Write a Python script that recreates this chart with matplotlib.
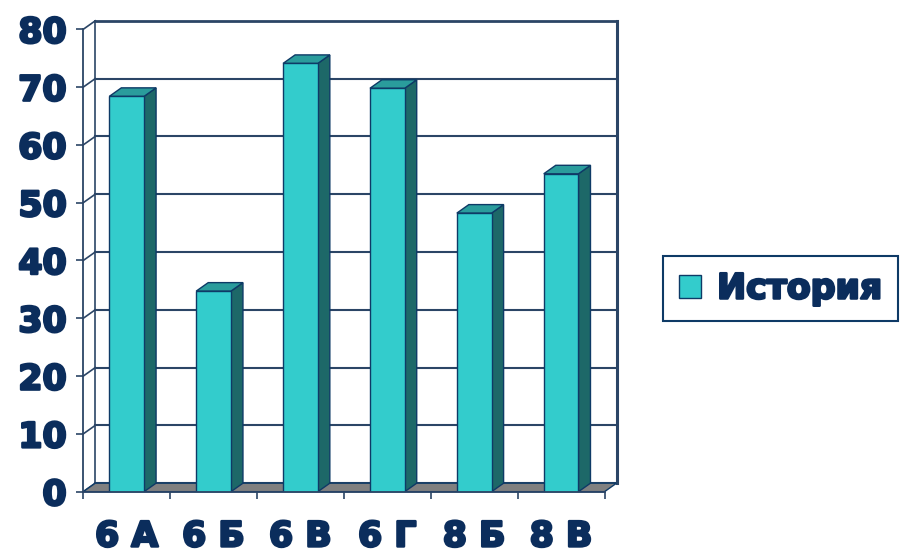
import numpy as np
import matplotlib
matplotlib.use("Agg")
import matplotlib.pyplot as plt
from matplotlib import font_manager as fm
from matplotlib import patheffects as pe
from matplotlib.patches import Polygon
from matplotlib.transforms import IdentityTransform

# ---- data ----
categories = ['6 А', '6 Б', '6 В', '6 Г', '8 Б', '8 В']
values = [68.4, 34.7, 74.1, 69.8, 48.2, 55.0]
series_name = 'История'
y_ticks = [0, 10, 20, 30, 40, 50, 60, 70, 80]

# ---- styles ----
FRONT = '#33CCCC'
SIDE = '#1D6868'
TOP = '#2A9C9C'
FLOOR = '#808080'
EDGE = '#0E3A66'
GRID = '#2B4566'
TEXT = '#0B2D5C'
DX, DY = 12.0, 8.5   # depth offset in pixels
FAM, WEIGHT, FS = 'DejaVu Sans', 'bold', 25
HEAVY = [pe.withStroke(linewidth=1.8, foreground=TEXT)]

plt.rcParams['font.family'] = [FAM]

fig = plt.figure(figsize=(9.05, 5.54), dpi=100)
ax = fig.add_axes([0.0920, 0.1125, 0.576, 0.8346])
ax.set_xlim(-0.5, len(categories) - 0.5)
ax.set_ylim(y_ticks[0], y_ticks[-1])
ax.patch.set_visible(False)
fig.canvas.draw()

x = np.arange(len(categories))
bw = 0.4
off = np.array([DX, DY])


def P(xd, yd, depth=0.0):
    return ax.transData.transform((xd, yd)) + depth * off


def poly(pts, fc, ec=EDGE, lw=1.0, z=1):
    ax.add_patch(Polygon(pts, closed=True, facecolor=fc, edgecolor=ec, lw=lw,
                         transform=IdentityTransform(), clip_on=False, zorder=z,
                         joinstyle='miter'))


def line(pts, color=GRID, lw=1.4, z=0.5):
    pts = np.array(pts)
    ax.add_line(matplotlib.lines.Line2D(pts[:, 0], pts[:, 1], color=color, lw=lw,
                                        transform=IdentityTransform(), clip_on=False,
                                        zorder=z))


x0, x1 = ax.get_xlim()
y0, y1 = ax.get_ylim()

# floor
poly([P(x0, y0), P(x1, y0), P(x1, y0, 1), P(x0, y0, 1)], FLOOR, lw=1.0, z=0.6)

# back wall gridlines and left wall lines
for v in y_ticks:
    line([P(x0, v, 1), P(x1, v, 1)], lw=1.5 if v < y_ticks[-1] else 2.0)
    line([P(x0, v), P(x0, v, 1)], lw=1.2)
line([P(x0, y0, 1), P(x0, y1, 1)], lw=1.2)
line([P(x1, y0, 1), P(x1, y1, 1)], lw=2.2)

# bars: front faces through ax.bar, then 3D side/top
bars = ax.bar(x, values, width=bw, color=FRONT, edgecolor=EDGE, linewidth=1.0,
              zorder=2, label=series_name)
for xi, v in zip(x, values):
    l, r = xi - bw / 2, xi + bw / 2
    poly([P(r, 0), P(r, 0, 1), P(r, v, 1), P(r, v)], SIDE, z=1.9)
    poly([P(l, v), P(r, v), P(r, v, 1), P(l, v, 1)], TOP, z=1.9)

# spines / axes (front)
for s in ['top', 'right']:
    ax.spines[s].set_visible(False)
for s in ['left', 'bottom']:
    ax.spines[s].set_color(GRID)
    ax.spines[s].set_linewidth(1.3)
    ax.spines[s].set_zorder(3)

ax.set_yticks(y_ticks)
ax.set_yticklabels([str(t) for t in y_ticks])
ax.tick_params(axis='y', direction='out', length=5, width=1.2, color=GRID, pad=7,
               labelsize=FS, labelcolor=TEXT)
for t in ax.get_yticklabels():
    t.set_fontweight(WEIGHT)
    t.set_path_effects(HEAVY)

ax.set_xticks(np.arange(len(categories) + 1) - 0.5)
ax.set_xticklabels([])
ax.set_xticks(x, minor=True)
ax.set_xticklabels(categories, minor=True)
ax.tick_params(axis='x', which='major', direction='out', length=5, width=1.2, color=GRID)
ax.tick_params(axis='x', which='minor', length=0, pad=20, labelsize=FS, labelcolor=TEXT)
for t in ax.get_xticklabels(minor=True):
    t.set_fontweight(WEIGHT)
    t.set_path_effects(HEAVY)

leg = fig.legend(handles=[bars], labels=[series_name], loc='center',
                 bbox_to_anchor=(0.8624, 0.4792), frameon=True, fancybox=False,
                 framealpha=1.0,
                 prop=fm.FontProperties(family=FAM, weight=WEIGHT, size=FS),
                 handlelength=0.66, handleheight=0.66, handletextpad=0.45,
                 borderpad=0.45, borderaxespad=0)
leg.get_frame().set_edgecolor(EDGE)
leg.get_frame().set_linewidth(1.5)
for t in leg.get_texts():
    t.set_color(TEXT)
    t.set_path_effects(HEAVY)

fig.savefig('out.png', dpi=100)
